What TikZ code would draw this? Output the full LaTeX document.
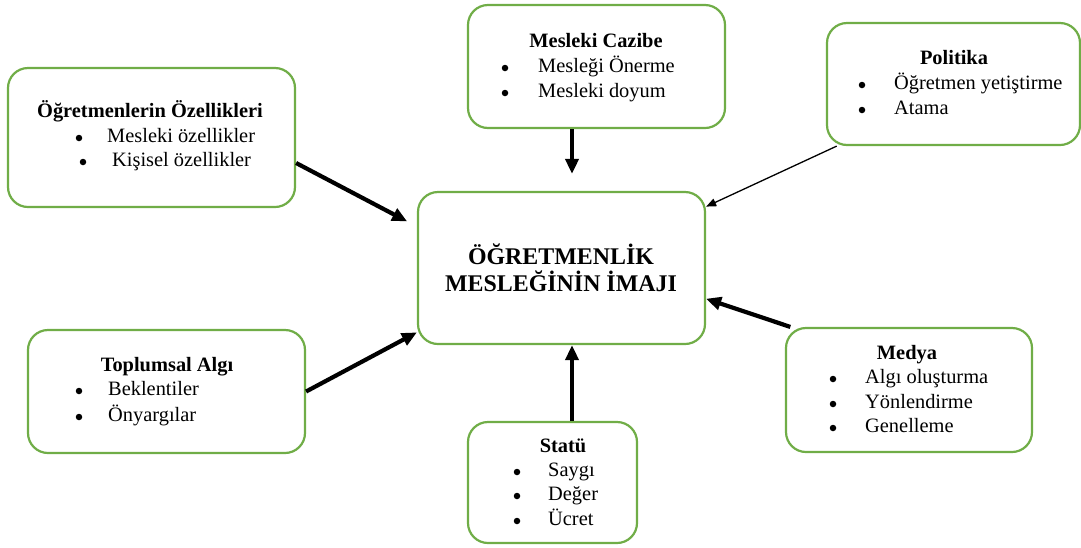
\documentclass[tikz,border=0pt]{standalone}
\usepackage{fontspec}
\setmainfont{Liberation Serif}
\usetikzlibrary{arrows.meta}
\definecolor{kutuyesil}{RGB}{112,173,71}
\tikzset{
  kutu/.style={draw=kutuyesil, line width=2.2pt, rounded corners=20pt, fill=white, inner sep=0pt},
  yazi/.style={font=\fontsize{20.4}{24}\selectfont, inner sep=0pt, text height=14pt, text depth=4.5pt},
  baslik/.style={yazi, font=\fontsize{20.4}{24}\selectfont\bfseries},
  madde/.style={circle, fill=black, inner sep=0pt, minimum size=6.5pt},
  kalin/.style={line width=4.2pt, -{Triangle[length=15pt,width=13pt]}},
  ince/.style={line width=1.3pt, -{Triangle[length=10pt,width=8pt]}}
}
\begin{document}
\begin{tikzpicture}[x=1pt,y=-1pt]
    \useasboundingbox (0,0) rectangle (1081,547);
    \node[kutu, minimum width=287pt, minimum height=139pt] (ozellik) at (151.5,137.5) {};
    \node[kutu, minimum width=257pt, minimum height=123pt] (cazibe) at (596.5,66.5) {};
    \node[kutu, minimum width=253pt, minimum height=122pt] (politika) at (953.5,84) {};
    \node[kutu, minimum width=287pt, minimum height=152pt] (imaj) at (561.5,268) {};
    \node[kutu, minimum width=277pt, minimum height=123pt] (toplum) at (166.5,391.5) {};
    \node[kutu, minimum width=169pt, minimum height=121pt] (statu) at (552.5,482.5) {};
    \node[kutu, minimum width=246pt, minimum height=124pt] (medya) at (909,390) {};
    \node[baslik] (ozellikB) at (150,113) {Öğretmenlerin Özellikleri};
    \node[baslik] (cazibeB) at (596,43) {Mesleki Cazibe};
    \node[baslik] (politikaB) at (954,60) {Politika};
    \node[baslik] (toplumB) at (167,367) {Toplumsal Algı};
    \node[baslik] (statuB) at (563,448) {Statü};
    \node[baslik] (medyaB) at (907,355) {Medya};
    \node[align=center, font=\fontsize{23.9}{27}\selectfont\bfseries] (imajB) at (561,268) {ÖĞRETMENLİK\\MESLEĞİNİN İMAJI};
    \foreach \bx/\tx/\y/\m [count=\i] in {79/107/138/Mesleki özellikler, 83/112/162/Kişisel özellikler,
        505/538/68/Mesleği Önerme, 505/538/93/Mesleki doyum,
        862/894/85/Öğretmen yetiştirme, 862/894/110/Atama,
        79/108/391/Beklentiler, 79/108/417/Önyargılar,
        517/548/472/Saygı, 517/548/496/Değer, 517/548/521/Ücret,
        833/865/379/Algı oluşturma, 833/865/404/Yönlendirme, 833/865/428/Genelleme} {
      \node[madde] (b\i) at (\bx,\y) {};
      \node[yazi, anchor=west] (m\i) at (\tx,\y) {\m};
    }
    \coordinate (eksen) at (572,0);
    \draw[kalin, shorten >=11pt] (ozellik.-10) -- (imaj.164);
    \draw[kalin, shorten >=17pt] (cazibe.south -| eksen) -- (imaj.north -| eksen);
    \draw[ince] (politika.-152) -- (imaj.23);
    \draw[kalin] (toplum.east) -- (imaj.-156);
    \draw[kalin] (statu.north -| eksen) -- (imaj.south -| eksen);
    \draw[kalin] (medya.152) -- (imaj.-12);
  \end{tikzpicture}
\end{document}
